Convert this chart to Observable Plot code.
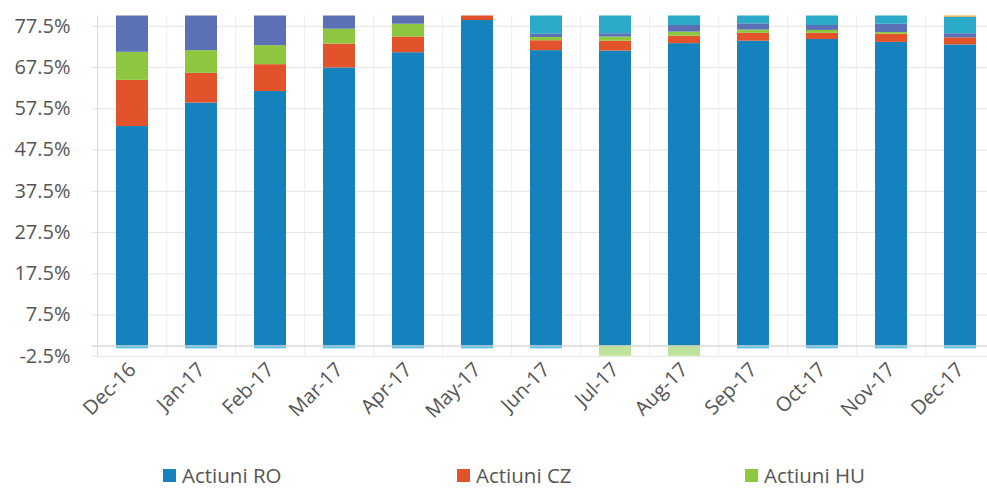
<!DOCTYPE html>
<html>
<head>
<meta charset="utf-8">
<script src="https://cdn.jsdelivr.net/npm/d3@7"></script>
<script src="https://cdn.jsdelivr.net/npm/@observablehq/plot@0.6"></script>
<style>
  html, body { margin: 0; padding: 0; background: #fff; }
  body { width: 987px; height: 488px; overflow: hidden; position: relative; font-family: "Open Sans", sans-serif; }
  #legend { position: absolute; left: 0; top: 465px; width: 987px; height: 22px; }
  .item { position: absolute; top: 0; display: flex; align-items: center; font-size: 20.5px; line-height: 21px; color: #555; white-space: nowrap; }
  .sw { width: 13px; height: 13px; margin-right: 6px; }
</style>
</head>
<body>
<div id="chart"></div>
<div id="legend"></div>
<script>
const months = ["Dec-16","Jan-17","Feb-17","Mar-17","Apr-17","May-17","Jun-17","Jul-17","Aug-17","Sep-17","Oct-17","Nov-17","Dec-17"];
const actiuniRO = [53.2, 58.9, 61.7, 67.4, 71.1, 78.9, 71.6, 71.5, 73.3, 73.9, 74.3, 73.6, 73.0];
const actiuniCZ = [11.2, 7.2, 6.5, 5.8, 3.8, 1.1, 2.4, 2.4, 1.8, 1.9, 1.5, 2.0, 1.7];
const actiuniHU = [6.8, 5.5, 4.6, 3.6, 3.1, 0, 0.8, 1.0, 1.0, 0.8, 0.7, 0.4, 0];
const seria4 = [8.8, 8.4, 7.2, 3.2, 2.0, 0, 0.8, 0.8, 1.6, 1.5, 1.2, 2.0, 1.0];
const seria5 = [0, 0, 0, 0, 0, 0, 4.4, 4.3, 2.3, 1.9, 2.3, 2.0, 4.0];
const seria6 = [0, 0, 0, 0, 0, 0, 0, 0, 0, 0, 0, 0, 0.3];
const seria7 = [-0.7, -0.7, -0.7, -0.7, -0.7, -0.7, -0.7, 0, 0, -0.7, -0.7, -0.7, -0.7];
const seria8 = [0, 0, 0, 0, 0, 0, 0, -2.5, -2.5, 0, 0, 0, 0];
const yTicks = [-2.5, 7.5, 17.5, 27.5, 37.5, 47.5, 57.5, 67.5, 77.5];
const seriesNames = ["Actiuni RO", "Actiuni CZ", "Actiuni HU", "Seria 4", "Seria 5", "Seria 6", "Seria 7", "Seria 8"];
const seriesValues = [actiuniRO, actiuniCZ, actiuniHU, seria4, seria5, seria6, seria7, seria8];
const legendNames = ["Actiuni RO", "Actiuni CZ", "Actiuni HU"];

const colors = ["#1682bd", "#e2532b", "#8dc63f", "#5b70b5", "#2aaac8", "#f0a43a", "#62c3ea", "#bfe39a"];

const rows = [];
seriesNames.forEach((s, i) => months.forEach((m, j) => rows.push({month: m, series: s, value: seriesValues[i][j]})));

const W = 987, H = 462;
const ml = 92, mr = -12;
const step = (W - ml - mr) / months.length;

const chart = Plot.plot({
  width: W,
  height: H,
  marginLeft: ml,
  marginRight: mr,
  marginTop: 15.5,
  marginBottom: H - 355.8,
  style: {fontFamily: "Open Sans, sans-serif", fontSize: "20px", color: "#555", background: "#fff"},
  x: {domain: months, paddingInner: 0.54, paddingOuter: 0.27, label: null},
  y: {domain: [-2.5, 80], label: null},
  color: {domain: seriesNames, range: colors},
  marks: [
    Plot.gridY(yTicks, {stroke: "#e3e3e3", strokeOpacity: 1}),
    Plot.ruleX(months, {x: d => d, dx: -step / 2, stroke: "#eeeeee", strokeOpacity: 1}),
    Plot.barY(rows, Plot.stackY({x: "month", y: "value", fill: "series", order: seriesNames})),
    Plot.ruleY([0], {stroke: "#c4c4c4"}),
    Plot.ruleX([months[0]], {x: d => d, dx: -step / 2, stroke: "#d9d9d9", strokeOpacity: 1}),
    Plot.axisY(yTicks, {tickSize: 0, tickPadding: 22, tickFormat: d => d.toFixed(1) + "%", fontSize: 20, fill: "#555"}),
    Plot.axisX({tickSize: 0, tickRotate: -45, tickPadding: 10, fontSize: 20, fill: "#555"})
  ]
});
document.getElementById("chart").appendChild(chart);

const legendX = [163, 457, 745];
const legend = document.getElementById("legend");
legendNames.forEach((name, i) => {
  const it = document.createElement("div");
  it.className = "item";
  it.style.left = legendX[i] + "px";
  const sw = document.createElement("span");
  sw.className = "sw";
  sw.style.background = colors[seriesNames.indexOf(name)];
  it.appendChild(sw);
  it.appendChild(document.createTextNode(name));
  legend.appendChild(it);
});
</script>
</body>
</html>
